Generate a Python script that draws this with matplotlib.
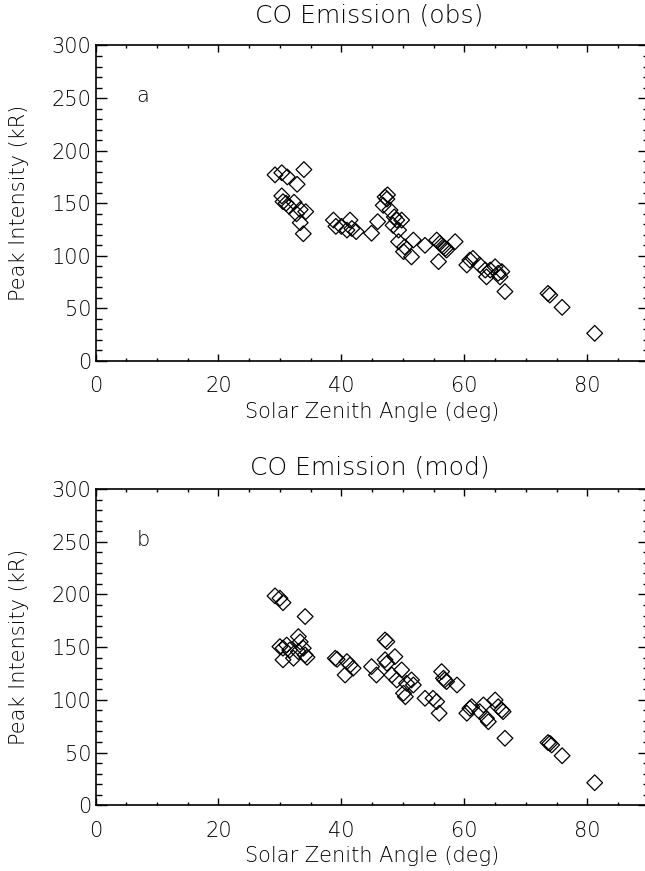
import matplotlib
matplotlib.use("Agg")
import matplotlib.pyplot as plt
from matplotlib.ticker import MultipleLocator

# ---- data ----
obs_sza = [29.2, 30.3, 31.2, 32.8, 33.9,
           30.3, 30.5, 31.0, 31.5, 32.3, 33.3, 34.2, 32.7, 33.3, 33.8,
           38.7, 39.1, 40.0, 40.9, 41.4, 41.7, 42.4,
           44.9, 45.9, 47.1, 47.5, 47.4, 46.8, 47.9, 48.6, 49.0, 49.8, 48.4, 49.3,
           49.3, 50.3, 51.4, 50.1, 51.7, 53.6,
           55.5, 56.0, 56.3, 56.6, 56.9, 57.1, 58.5, 55.8,
           60.4, 60.9, 61.4, 62.5, 63.4, 63.6, 64.2, 65.0, 65.5, 66.1, 65.8, 66.6,
           73.6, 73.9, 75.9, 81.2]
obs_int = [177, 179, 175, 168, 182,
           157, 151.5, 150, 147, 151, 144, 142, 140, 131.5, 121,
           134, 128, 128, 124.5, 134, 126, 123,
           121.5, 132.5, 156, 158, 154, 148, 143.5, 137, 134, 134, 129, 124.5,
           113.5, 108.5, 99, 104, 115, 110,
           115, 112, 110, 108.7, 107, 105.5, 113.5, 94.5,
           91.3, 96, 97.6, 91.3, 86.5, 80, 86.5, 89.6, 83.4, 85, 80, 66,
           64.3, 62.7, 51, 26.3]

mod_sza = [29.2, 30.0, 30.5, 34.1,
           30.0, 30.5, 31.1, 31.6, 33.0, 33.3, 33.8, 34.1, 34.4, 30.5, 32.2, 33.0,
           39.0, 39.3, 40.9, 41.4, 41.9, 40.6,
           44.9, 45.7, 47.1, 47.4, 47.1, 47.4, 48.7, 49.8, 48.2, 49.0, 51.4, 51.7,
           50.1, 50.6, 50.4,
           53.6, 56.3, 56.6, 56.8, 57.1, 58.8, 54.9, 55.5, 55.9,
           60.4, 60.9, 61.2, 62.5, 63.1, 63.6, 63.9, 65.0, 65.5, 66.1, 66.3, 66.6,
           73.6, 73.9, 74.2, 75.9, 81.2]
mod_int = [198.6, 196.4, 192.2, 179,
           150.5, 149, 152, 147.3, 160, 155, 149, 142.6, 140.4, 138, 139.5, 145.7,
           139.5, 138.5, 136.3, 133, 130, 123.6,
           131.5, 123.6, 156.8, 155.2, 138, 134.7, 141, 128.4, 123.6, 118.9, 118.9, 114.1,
           106.3, 115.7, 103,
           101.5, 126.8, 120.5, 118.9, 117.3, 114.1, 101.5, 98.3, 87.3,
           87.3, 92, 93.5, 88.8, 95.2, 82.5, 79.3, 99.9, 93.5, 90.4, 88.8, 63.6,
           59.5, 58.8, 57.2, 47, 21.4]

titles = ["CO Emission (obs)", "CO Emission (mod)"]
panel_tags = ["a", "b"]
xlabel = "Solar Zenith Angle (deg)"
ylabel = "Peak Intensity (kR)"

W, H = 645, 871
plt.rcParams['font.family'] = ['DejaVu Sans']
plt.rcParams['font.weight'] = 'light'
plt.rcParams['axes.labelweight'] = 'light'
TXT = 'black'
fig = plt.figure(figsize=(W / 100, H / 100), dpi=100)

# axes boxes in pixels: (left, top, right, bottom)
boxes = [(95.5, 45.5, 648.8, 361.0), (95.5, 489.0, 648.8, 805.3)]
title_y = [15, 467]
datasets = [(obs_sza, obs_int), (mod_sza, mod_int)]

for i, ((l, t, r, b), (xs, ys)) in enumerate(zip(boxes, datasets)):
    ax = fig.add_axes([l / W, 1 - b / H, (r - l) / W, (b - t) / H])
    ax.scatter(xs, ys, marker='D', s=8.0 ** 2, facecolors='none',
               edgecolors='black', linewidths=0.9, clip_on=False)
    ax.set_xlim(0, 90)
    ax.set_ylim(0, 300)
    ax.xaxis.set_major_locator(MultipleLocator(20))
    ax.xaxis.set_minor_locator(MultipleLocator(5))
    ax.yaxis.set_major_locator(MultipleLocator(50))
    ax.yaxis.set_minor_locator(MultipleLocator(10))
    ax.tick_params(axis='x', which='major', direction='in', length=4.8, width=1.0,
                   top=True, bottom=True, labelsize=15, pad=11, labelcolor=TXT)
    ax.tick_params(axis='x', which='minor', direction='in', length=2.4, width=1.0,
                   top=True, bottom=True)
    ax.tick_params(axis='y', which='major', direction='in', length=8, width=1.0,
                   left=True, right=True, labelsize=15, pad=3, labelcolor=TXT)
    ax.tick_params(axis='y', which='minor', direction='in', length=4, width=1.0,
                   left=True, right=True)
    for sp in ax.spines.values():
        sp.set_linewidth(1.2)
    ax.set_xlabel(xlabel, fontsize=15, labelpad=4, color=TXT, fontweight='light')
    ax.set_ylabel(ylabel, fontsize=15, color=TXT, fontweight='light')
    ax.yaxis.set_label_coords((29 - l) / (r - l), 0.5)
    ax.text(7.7, 252, panel_tags[i], fontsize=15, ha='center', va='center',
            color=TXT, fontweight='light')
    fig.text((l + r) / 2 / W - 0.004, 1 - title_y[i] / H, titles[i], fontsize=18,
             ha='center', va='center', color=TXT, fontweight='light')

fig.savefig("out.png", dpi=100)
